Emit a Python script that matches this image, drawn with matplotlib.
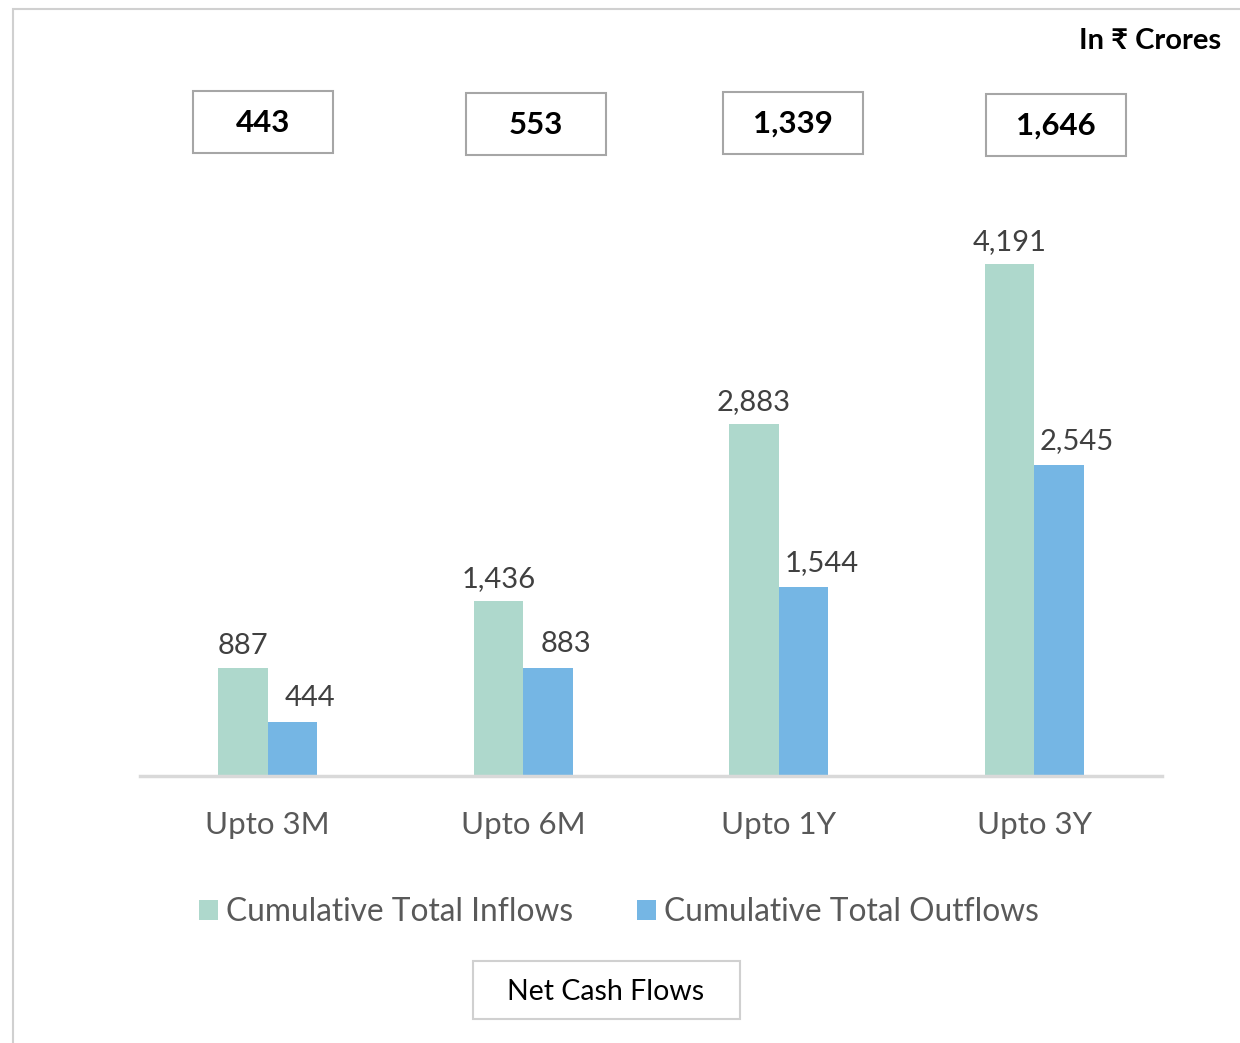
import matplotlib.pyplot as plt
from matplotlib.patches import Rectangle

plt.rcParams["font.family"] = ["Lato", "DejaVu Sans"]

categories = ["Upto 3M", "Upto 6M", "Upto 1Y", "Upto 3Y"]
inflows = [887, 1436, 2883, 4191]
outflows = [444, 883, 1544, 2545]
net_flows = [443, 553, 1339, 1646]

W, H = 1240, 1043
INFLOW_COLOR = "#AED8CC"
OUTFLOW_COLOR = "#75B6E4"
EDGE = "#D0D0D0"


def fx(x):
    return x / W


def fy(y):
    return 1 - y / H


fig = plt.figure(figsize=(W / 100, H / 100), dpi=100)

# outer frame (right and bottom edges run off the picture)
fig.add_artist(Rectangle((fx(13), -0.2), 2, fy(9) + 0.2, transform=fig.transFigure,
                         fill=False, ec=EDGE, lw=1.5))

ax = fig.add_axes([fx(140), fy(776), fx(1162) - fx(140), fy(200) - fy(776)])
width = 0.193
xs = list(range(len(categories)))
b1 = ax.bar([x - width / 2 for x in xs], inflows, width, color=INFLOW_COLOR)
b2 = ax.bar([x + width / 2 for x in xs], outflows, width, color=OUTFLOW_COLOR)
ax.set_xlim(-0.5, 3.5)
ax.set_ylim(0, max(inflows) * 576 / 512)

for rect, v in zip(b1, inflows):
    ax.annotate(f"{v:,}", (rect.get_x() + rect.get_width() / 2, v),
                xytext=(0, 9), textcoords="offset pixels",
                ha="center", va="bottom", fontsize=21, color="#404040")
for rect, v in zip(b2, outflows):
    ax.annotate(f"{v:,}", (rect.get_x() + rect.get_width() / 2, v),
                xytext=(18, 11), textcoords="offset pixels",
                ha="center", va="bottom", fontsize=21, color="#404040")

for s in ["top", "right", "left"]:
    ax.spines[s].set_visible(False)
ax.spines["bottom"].set_color("#D9D9D9")
ax.spines["bottom"].set_linewidth(2.5)
ax.set_yticks([])
ax.set_xticks(xs)
ax.set_xticklabels(categories, fontsize=22.5, color="#595959")
ax.tick_params(axis="x", length=0, pad=25)

fig.legend([b1, b2], ["Cumulative Total Inflows", "Cumulative Total Outflows"],
           loc="center", bbox_to_anchor=(fx(619), fy(912)), ncol=2, frameon=False,
           fontsize=22.8, labelcolor="#595959", handlelength=0.62, handleheight=0.62,
           handletextpad=0.25, columnspacing=2.0)

# net cash flow boxes above the bars
box_x = [193, 466, 723, 986]
box_y = [91, 93, 92, 94]
for x0, y0, v in zip(box_x, box_y, net_flows):
    fig.add_artist(Rectangle((fx(x0), fy(y0 + 62)), fx(140), 62 / H,
                             transform=fig.transFigure, fill=False, ec="#A6A6A6", lw=1.5))
    fig.text(fx(x0 + 70), fy(y0 + 32), f"{v:,}", ha="center", va="center",
             fontsize=22.5, fontweight="bold", color="black")

fig.add_artist(Rectangle((fx(473), fy(1019)), fx(267), 58 / H,
                         transform=fig.transFigure, fill=False, ec=EDGE, lw=1.5))
fig.text(fx(606), fy(992), "Net Cash Flows", ha="center", va="center",
         fontsize=20.5, color="black")

fig.text(fx(1221), fy(41), "In \u20b9 Crores", ha="right", va="center",
         fontsize=21, fontweight="bold", color="black")

fig.savefig("out.png", dpi=100)
